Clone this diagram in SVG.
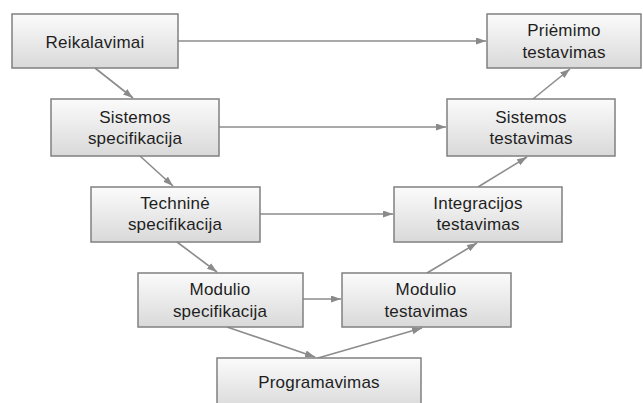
<svg xmlns="http://www.w3.org/2000/svg" width="643" height="403" viewBox="0 0 643 403">
<defs>
<linearGradient id="g" x1="0" y1="0" x2="0" y2="1">
<stop offset="0" stop-color="#fbfbfb"/>
<stop offset="1" stop-color="#d9d9d9"/>
</linearGradient>
<marker id="ah" markerWidth="11" markerHeight="8" refX="10" refY="3.5" orient="auto" markerUnits="userSpaceOnUse">
<path d="M0,0 L10,3.5 L0,7 z" fill="#8a8a8a"/>
</marker>
<style>
.box{fill:url(#g);stroke:#808080;stroke-width:1.5}
.t{font-family:"Liberation Sans",Arial,sans-serif;font-size:17px;fill:#1e1e1e;text-anchor:middle;letter-spacing:0.2px}
.c{stroke:#8c8c8c;stroke-width:1.6;fill:none;marker-end:url(#ah)}
</style>
</defs>
<rect width="643" height="403" fill="#fff"/>
<g id="connectors">
<line class="c" x1="178" y1="41" x2="486" y2="41"/>
<line class="c" x1="95" y1="68" x2="133" y2="98"/>
<line class="c" x1="140" y1="156" x2="173" y2="186"/>
<line class="c" x1="219" y1="127" x2="446" y2="127"/>
<line class="c" x1="177" y1="242" x2="217" y2="272"/>
<line class="c" x1="260" y1="214" x2="393" y2="214"/>
<line class="c" x1="303" y1="299" x2="341" y2="299"/>
<line class="c" x1="227" y1="327" x2="315" y2="357"/>
<line class="c" x1="318" y1="358" x2="422" y2="328"/>
<line class="c" x1="427" y1="273" x2="477" y2="243"/>
<line class="c" x1="478" y1="187" x2="527" y2="157"/>
<line class="c" x1="533" y1="99" x2="570" y2="69"/>
</g>
<g id="reikalavimai">
<rect class="box" x="12" y="14" width="166" height="54"/>
<text class="t" x="95" y="48">Reikalavimai</text>
</g>
<g id="sistemos-specifikacija">
<rect class="box" x="51" y="99" width="168" height="57"/>
<text class="t" x="135" y="123">Sistemos</text>
<text class="t" x="135" y="144">specifikacija</text>
</g>
<g id="technine-specifikacija">
<rect class="box" x="91" y="187" width="169" height="55"/>
<text class="t" x="175" y="209">Techninė</text>
<text class="t" x="175" y="230">specifikacija</text>
</g>
<g id="modulio-specifikacija">
<rect class="box" x="138" y="273" width="165" height="54"/>
<text class="t" x="220" y="295">Modulio</text>
<text class="t" x="220" y="317">specifikacija</text>
</g>
<g id="programavimas">
<rect class="box" x="217" y="358" width="204" height="52"/>
<text class="t" x="319" y="388">Programavimas</text>
</g>
<g id="modulio-testavimas">
<rect class="box" x="342" y="273" width="169" height="54"/>
<text class="t" x="426" y="295">Modulio</text>
<text class="t" x="426" y="317">testavimas</text>
</g>
<g id="integracijos-testavimas">
<rect class="box" x="394" y="187" width="168" height="55"/>
<text class="t" x="478" y="209">Integracijos</text>
<text class="t" x="478" y="230">testavimas</text>
</g>
<g id="sistemos-testavimas">
<rect class="box" x="447" y="99" width="168" height="57"/>
<text class="t" x="531" y="123">Sistemos</text>
<text class="t" x="531" y="144">testavimas</text>
</g>
<g id="priemimo-testavimas">
<rect class="box" x="487" y="14" width="154" height="54"/>
<text class="t" x="564" y="36">Priėmimo</text>
<text class="t" x="564" y="58">testavimas</text>
</g>
</svg>
